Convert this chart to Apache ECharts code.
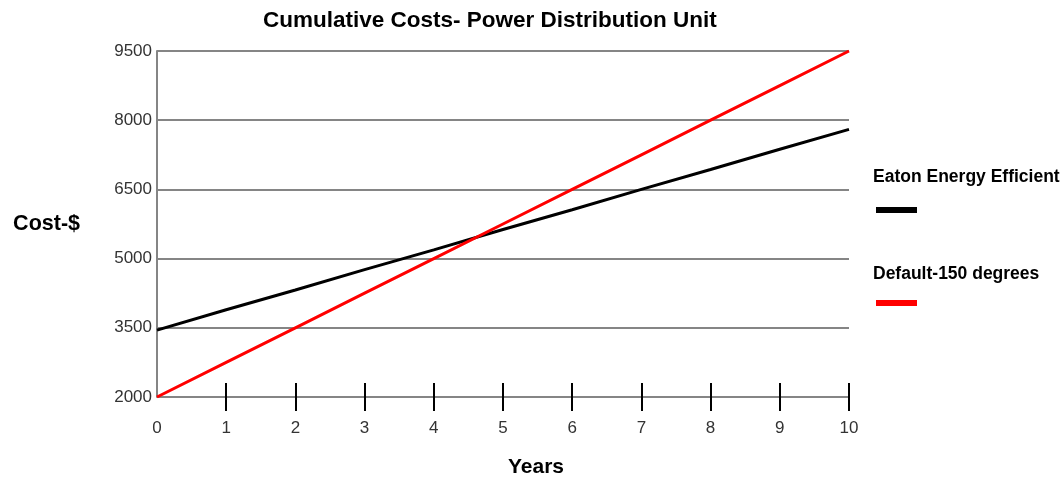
<!DOCTYPE html>
<html>
<head>
<meta charset="utf-8">
<title>Cumulative Costs- Power Distribution Unit</title>
<script src="https://cdn.jsdelivr.net/npm/echarts@6/dist/echarts.min.js"></script>
<style>
  html, body { margin: 0; padding: 0; background: #fff; }
  #main { width: 1063px; height: 479px; }
</style>
</head>
<body>
<div id="main"></div>
<script>
// data
var years = [0, 1, 2, 3, 4, 5, 6, 7, 8, 9, 10];
var eatonCost = [3450, 3890, 4320, 4760, 5190, 5630, 6060, 6500, 6930, 7370, 7800];
var defaultCost = [2000, 2750, 3500, 4250, 5000, 5750, 6500, 7250, 8000, 8750, 9500];
var yTicks = [2000, 3500, 5000, 6500, 8000, 9500];
var xTickMarks = [1, 2, 3, 4, 5, 6, 7, 8, 9, 10];
var seriesNames = ["Eaton Energy Efficient", "Default-150 degrees"];

var font = "'Liberation Sans', Arial, sans-serif";

function pairs(xs, ys) {
  var out = [];
  for (var i = 0; i < xs.length; i++) {
    out.push([xs[i], ys[i]]);
  }
  return out;
}

var myChart = echarts.init(document.getElementById("main"));
myChart.setOption({
  animation: false,
  textStyle: { fontFamily: font },
  title: {
    text: "Cumulative Costs- Power Distribution Unit",
    left: 263,
    top: 9,
    padding: 0,
    textStyle: { fontSize: 22.5, fontWeight: "bold", color: "#000", fontFamily: font }
  },
  grid: {
    left: 157,
    right: 214,
    top: 51,
    bottom: 82,
    containLabel: false,
    outerBoundsMode: "none"
  },
  legend: [
    {
      data: [seriesNames[0]],
      left: 876,
      top: 207,
      padding: 0,
      icon: "rect",
      itemWidth: 41,
      itemHeight: 6,
      formatter: function () { return ""; },
      selectedMode: false
    },
    {
      data: [seriesNames[1]],
      left: 876,
      top: 300,
      padding: 0,
      icon: "rect",
      itemWidth: 41,
      itemHeight: 6,
      formatter: function () { return ""; },
      selectedMode: false
    }
  ],
  graphic: [
    {
      type: "text",
      left: 873,
      top: 168,
      style: { text: seriesNames[0], font: "bold 17.5px " + font, fill: "#000" }
    },
    {
      type: "text",
      left: 873,
      top: 265,
      style: { text: seriesNames[1], font: "bold 17.5px " + font, fill: "#000" }
    }
  ],
  xAxis: {
    type: "value",
    min: years[0],
    max: years[years.length - 1],
    interval: 1,
    offset: -14,
    name: "Years",
    nameLocation: "middle",
    nameGap: 74,
    nameTextStyle: {
      fontSize: 21,
      fontWeight: "bold",
      color: "#000",
      padding: [0, 0, 0, 66]
    },
    axisLine: { show: false },
    axisTick: {
      show: true,
      length: 28,
      customValues: xTickMarks,
      lineStyle: { color: "#000", width: 2 }
    },
    axisLabel: {
      margin: 37,
      fontSize: 17,
      color: "#333"
    },
    splitLine: { show: false }
  },
  yAxis: {
    type: "value",
    min: yTicks[0],
    max: yTicks[yTicks.length - 1],
    interval: yTicks[1] - yTicks[0],
    name: "Cost-$",
    nameLocation: "middle",
    nameRotate: 0,
    nameGap: 77,
    nameTextStyle: {
      fontSize: 21.5,
      fontWeight: "bold",
      color: "#000",
      padding: [0, 0, 15, 0]
    },
    axisLine: { show: true, lineStyle: { color: "#858585", width: 2 } },
    axisTick: { show: false },
    axisLabel: {
      margin: 5,
      fontSize: 17,
      color: "#333",
      formatter: function (v) { return String(v); }
    },
    splitLine: {
      show: true,
      lineStyle: { color: "#858585", width: 2, type: "solid" }
    }
  },
  series: [
    {
      name: seriesNames[0],
      type: "line",
      data: pairs(years, eatonCost),
      showSymbol: false,
      symbol: "none",
      color: "#000000",
      lineStyle: { color: "#000000", width: 3 },
      z: 3
    },
    {
      name: seriesNames[1],
      type: "line",
      data: pairs(years, defaultCost),
      showSymbol: false,
      symbol: "none",
      color: "#ff0000",
      lineStyle: { color: "#ff0000", width: 3 },
      z: 4
    }
  ]
});
</script>
</body>
</html>
